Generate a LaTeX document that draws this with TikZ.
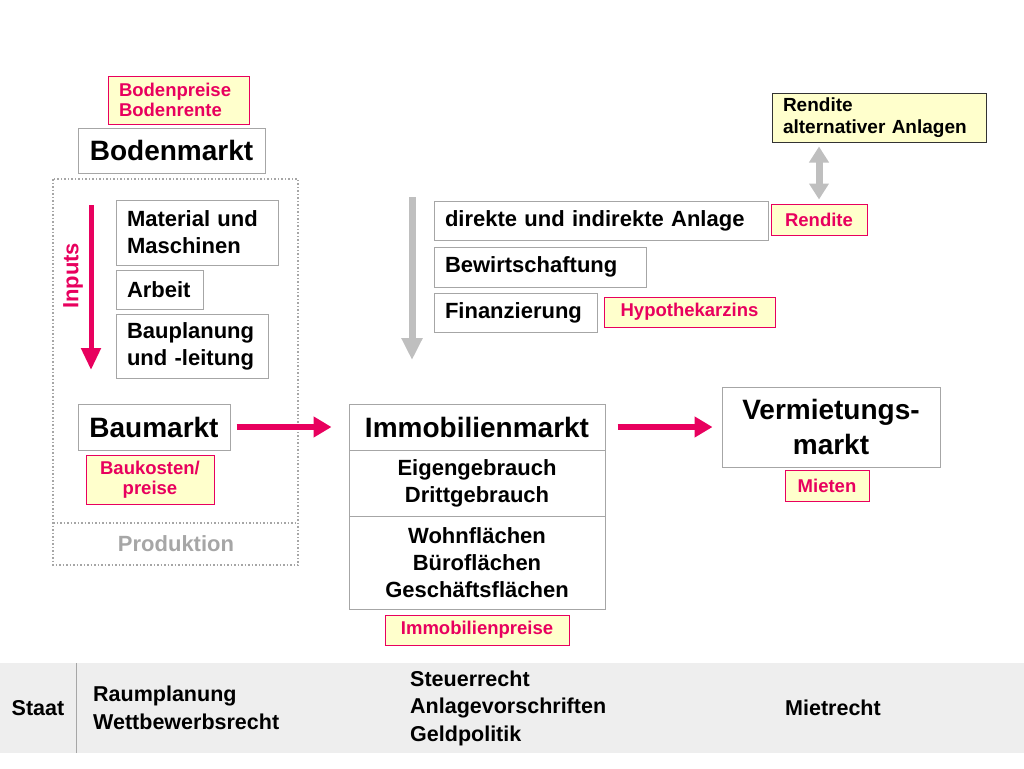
\documentclass[tikz,border=0pt]{standalone}
\usepackage{fontspec}
\setmainfont{Liberation Sans}
\usetikzlibrary{arrows.meta}

\definecolor{hotpink}{HTML}{E8005E}
\definecolor{paleyellow}{HTML}{FFFFCC}
\definecolor{boxgray}{HTML}{A6A6A6}
\definecolor{arrowgray}{HTML}{BFBFBF}
\definecolor{bandgray}{HTML}{EEEEEE}

\begin{document}
\begin{tikzpicture}[%
      x=1pt, y=-1pt,
      box/.style={draw=boxgray, line width=1pt, fill=white, inner xsep=11pt, inner ysep=2pt, align=left, font=\bfseries\fontsize{22}{27}\selectfont},
      bigbox/.style={box, align=center, font=\bfseries\fontsize{28}{35}\selectfont},
      price/.style={draw=hotpink, line width=1pt, fill=paleyellow, text=hotpink, inner xsep=11pt, inner ysep=2pt, align=center, font=\bfseries\fontsize{18.5}{19.5}\selectfont},
      lawtext/.style={align=left, inner sep=0pt, font=\bfseries\fontsize{21.5}{27.5}\selectfont},
      pinkarrow/.style={draw=hotpink, line width=6pt, -{Triangle[width=20pt,length=18pt]}},
      grayarrow/.style={draw=arrowgray, line width=7pt, -{Triangle[width=20pt,length=22pt]}},
      ]
      \useasboundingbox (0,0) rectangle (1024,768);

      % Produktion
      \draw [boxgray, dotted, line width=1.5pt] (53,179) rectangle (298,565);
      \draw [boxgray, dotted, line width=1.5pt] (53,523) -- (298,523);
      \node [font=\bfseries\fontsize{22}{27}\selectfont, text=boxgray] (produktion) at (176,544) {Produktion};

      \node [price, align=left, text width=119pt, minimum height=48pt] (bodenpreise) at (178.5,100) {Bodenpreise\\Bodenrente};
      \node [bigbox, minimum width=187pt, minimum height=45pt] (bodenmarkt) at (171.5,150.5) {Bodenmarkt};

      \node [box, text width=140pt, minimum height=65pt] (material) at (197,232.5) {Material und\\Maschinen};
      \node [box, text width=65pt, minimum height=39pt] (arbeit) at (159.5,289.5) {Arbeit};
      \node [box, text width=130pt, minimum height=64pt] (bauplanung) at (192,346) {Bauplanung\\und -leitung};

      \coordinate (inputstop) at (91,205);
      \coordinate (inputsend) at (91,370);
      \draw [pinkarrow, line width=5pt, -{Triangle[width=19pt,length=22pt]}] (inputstop) -- (inputsend);
      \node [rotate=90, text=hotpink, font=\bfseries\fontsize{22}{27}\selectfont] (inputs) at (73,276) {Inputs};

      \node [bigbox, minimum width=152pt, minimum height=46pt] (baumarkt) at (154,427) {Baumarkt};
      \node [price, minimum width=128pt, minimum height=49pt] (baukosten) at (150,479.5) {Baukosten/\\preise};

      % Immobilienmarkt
      \node [bigbox, minimum width=256pt, minimum height=46pt] (immo) at (477,427) {Immobilienmarkt};
      \node [box, align=center, minimum width=256pt, minimum height=66pt] (nutzung) at (477,483) {Eigengebrauch\\Drittgebrauch};
      \node [box, align=center, minimum width=256pt, minimum height=93pt] (flaechen) at (477,562.5) {Wohnflächen\\Büroflächen\\Geschäftsflächen};
      \node [price, minimum width=184pt, minimum height=30pt] (immopreise) at (477,630) {Immobilienpreise};

      \draw [pinkarrow, shorten <=6pt, shorten >=17pt] (baumarkt.east) -- (immo.west);

      % Anlage
      \coordinate (anlagetop) at (412,197);
      \coordinate (anlageend) at (412,360);
      \draw [grayarrow] (anlagetop) -- (anlageend);
      \node [box, text width=312pt, minimum height=39pt] (anlage) at (601,220.5) {direkte und indirekte Anlage};
      \node [box, text width=190pt, minimum height=40pt] (bewirtschaftung) at (540,267) {Bewirtschaftung};
      \node [box, text width=141pt, minimum height=39pt] (finanzierung) at (515.5,312.5) {Finanzierung};
      \node [price, minimum width=96pt, minimum height=31pt] (rendite) at (819,219.5) {Rendite};
      \node [price, minimum width=171pt, minimum height=30pt] (hypothek) at (689.5,312) {Hypothekarzins};

      \node [box, draw=black!80, fill=paleyellow, text width=192pt, minimum height=49pt, font=\bfseries\fontsize{19}{22}\selectfont] (alternativ) at (879,117.5) {Rendite\\alternativer Anlagen};
      \draw [draw=arrowgray, line width=7pt, {Triangle[width=19pt,length=16pt]}-{Triangle[width=19pt,length=16pt]}, shorten <=4pt, shorten >=4pt] (rendite.north |- alternativ.south) -- (rendite.north);

      % Vermietungsmarkt
      \node [bigbox, minimum width=218pt, minimum height=80pt] (vermietung) at (831,427) {Vermietungs-\\markt};
      \node [price, minimum width=84pt, minimum height=31pt] (mieten) at (827,485.5) {Mieten};
      \draw [pinkarrow, shorten <=12pt, shorten >=9pt] (immo.east) -- (vermietung.west);

      % Staat
      \fill [bandgray] (0,663) rectangle (1024,753);
      \draw [boxgray, line width=1pt] (76,663) -- (76,753);
      \node [lawtext] (staat) at (38,708) {Staat};
      \node [lawtext, anchor=west] (raum) at (93,708) {Raumplanung\\Wettbewerbsrecht};
      \node [lawtext, anchor=west] (steuer) at (410,708) {Steuerrecht\\Anlagevorschriften\\Geldpolitik};
      \node [lawtext, anchor=west] (mietrecht) at (785,708) {Mietrecht};
      \end{tikzpicture}
\end{document}
